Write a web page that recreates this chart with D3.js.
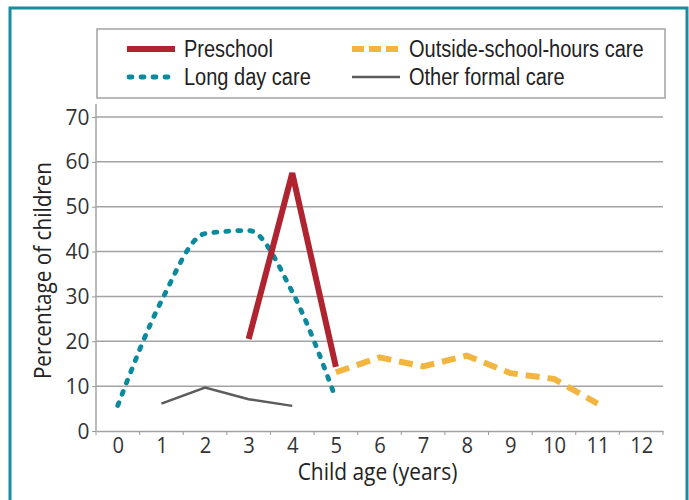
<!DOCTYPE html>
<html>
<head>
<meta charset="utf-8">
<script src="https://cdn.jsdelivr.net/npm/d3@7"></script>
<style>
  body { margin: 0; background: #fff; }
  text { font-family: "Open Sans", sans-serif; fill: #222; }
  .legend text { font-family: "Liberation Sans", Arial, sans-serif; }
</style>
</head>
<body>
<div id="chart"></div>
<script>
// data
const ages = [0, 1, 2, 3, 4, 5, 6, 7, 8, 9, 10, 11, 12];
const yTicks = [0, 10, 20, 30, 40, 50, 60, 70];

const preschoolAges = [3, 4, 5];
const preschool = [20.5, 57.5, 14.3];

const longDayAges = [0, 1, 2, 3, 4, 5];
const longDay = [5.7, 29, 44, 44.7, 31, 7.2];

const oshcAges = [5, 6, 7, 8, 9, 10, 11];
const oshc = [13.1, 16.4, 14.4, 16.8, 12.9, 11.6, 6.1];

const otherAges = [1, 2, 3, 4];
const other = [6.1, 9.7, 7.1, 5.6];

const series = [
  {name: 'Long day care', x: longDayAges, y: longDay, color: '#0a8a9c', width: 4.8, dash: '3 9', cap: 'round', curve: d3.curveMonotoneX},
  {name: 'Other formal care', x: otherAges, y: other, color: '#5c5c5c', width: 2.5, dash: null, cap: 'butt', curve: d3.curveLinear},
  {name: 'Outside-school-hours care', x: oshcAges, y: oshc, color: '#f2b540', width: 6, dash: '14 8', cap: 'butt', curve: d3.curveLinear},
  {name: 'Preschool', x: preschoolAges, y: preschool, color: '#b0242f', width: 6, dash: null, cap: 'butt', curve: d3.curveLinear}
];

const W = 689, H = 500;
const margin = {top: 104, right: 26, bottom: 69, left: 96};

const svg = d3.select('#chart').append('svg')
    .attr('width', W)
    .attr('height', H);

// condensed-looking text: scale horizontally
function label(g, px, py, str, size, sx, anchor, rot) {
  return g.append('text')
      .attr('transform', `translate(${px},${py})` + (rot ? ` rotate(${rot})` : '') + ` scale(${sx},1)`)
      .attr('text-anchor', anchor || 'start')
      .attr('font-size', size)
      .text(str);
}

// outer frame
svg.append('rect')
    .attr('x', 10).attr('y', 8)
    .attr('width', W - 10 - 2).attr('height', H)
    .attr('fill', 'none')
    .attr('stroke', '#1a8ca0')
    .attr('stroke-width', 3);

const x = d3.scaleLinear()
    .domain([-0.5, 12.5])
    .range([margin.left, W - margin.right]);

const y = d3.scaleLinear()
    .domain([0, 70])
    .range([431, 117]);

// gridlines
svg.append('g')
  .selectAll('line')
  .data(yTicks.filter(d => d > 0))
  .join('line')
    .attr('x1', margin.left).attr('x2', W - margin.right)
    .attr('y1', d => y(d)).attr('y2', d => y(d))
    .attr('stroke', '#a3a3a3')
    .attr('stroke-width', 1.5);

// y axis
const yAxis = svg.append('g')
    .attr('transform', `translate(${margin.left},0)`)
    .call(d3.axisLeft(y).tickValues(yTicks).tickSize(4).tickPadding(3));
yAxis.select('.domain').remove();
yAxis.selectAll('.tick line').attr('stroke', '#999');
yAxis.selectAll('text')
    .attr('font-size', 22)
    .attr('transform', 'scale(0.95,1)')
    .style('fill', '#333');
svg.append('line')
    .attr('x1', margin.left).attr('x2', margin.left)
    .attr('y1', margin.top).attr('y2', y(0))
    .attr('stroke', '#a3a3a3').attr('stroke-width', 1.5);

// x axis
const xAxis = svg.append('g')
    .attr('transform', `translate(0,${y(0)})`)
    .call(d3.axisBottom(x).tickValues(ages).tickSize(0).tickPadding(6).tickFormat(d3.format('d')));
xAxis.select('.domain').attr('stroke', '#a3a3a3').attr('stroke-width', 1.5);
xAxis.selectAll('text')
    .attr('font-size', 22)
    .attr('transform', 'scale(0.92,1)')
    .style('fill', '#333');
svg.append('g')
  .selectAll('line')
  .data(d3.range(-0.5, 13, 1))
  .join('line')
    .attr('x1', d => x(d)).attr('x2', d => x(d))
    .attr('y1', y(0)).attr('y2', y(0) + 4)
    .attr('stroke', '#999');

// axis titles
label(svg, (x(-0.5) + x(12.5)) / 2 - 2, 480, 'Child age (years)', 23, 0.91, 'middle');
label(svg, 51, (y(0) + margin.top) / 2 + 3, 'Percentage of children', 23, 0.9, 'middle', -90);

// lines
series.forEach(s => {
  const line = d3.line()
      .x((d, i) => x(s.x[i]))
      .y(d => y(d))
      .curve(s.curve);
  svg.append('path')
      .datum(s.y)
      .attr('d', line)
      .attr('fill', 'none')
      .attr('stroke', s.color)
      .attr('stroke-width', s.width)
      .attr('stroke-dasharray', s.dash)
      .attr('stroke-linecap', s.cap)
      .attr('stroke-linejoin', 'miter');
});

// legend
const lg = svg.append('g').attr('class', 'legend');
lg.append('rect')
    .attr('x', 97).attr('y', 29)
    .attr('width', 568).attr('height', 69)
    .attr('fill', '#fff')
    .attr('stroke', '#a3a3a3')
    .attr('stroke-width', 1.5);

const legendItems = [
  {s: series[3], lx: 127, ly: 49},
  {s: series[2], lx: 352, ly: 49},
  {s: series[0], lx: 127, ly: 77},
  {s: series[1], lx: 352, ly: 77}
];
legendItems.forEach(it => {
  lg.append('line')
      .attr('x1', it.lx + (it.s.cap === 'round' ? 2 : 0))
      .attr('x2', it.lx + 48)
      .attr('y1', it.ly).attr('y2', it.ly)
      .attr('stroke', it.s.color)
      .attr('stroke-width', it.s.width)
      .attr('stroke-dasharray', it.s.dash === '14 8' ? '12 5' : it.s.dash)
      .attr('stroke-linecap', it.s.cap);
  label(lg, it.lx + 57, it.ly + 8, it.s.name, 23, 0.87);
});
</script>
</body>
</html>
